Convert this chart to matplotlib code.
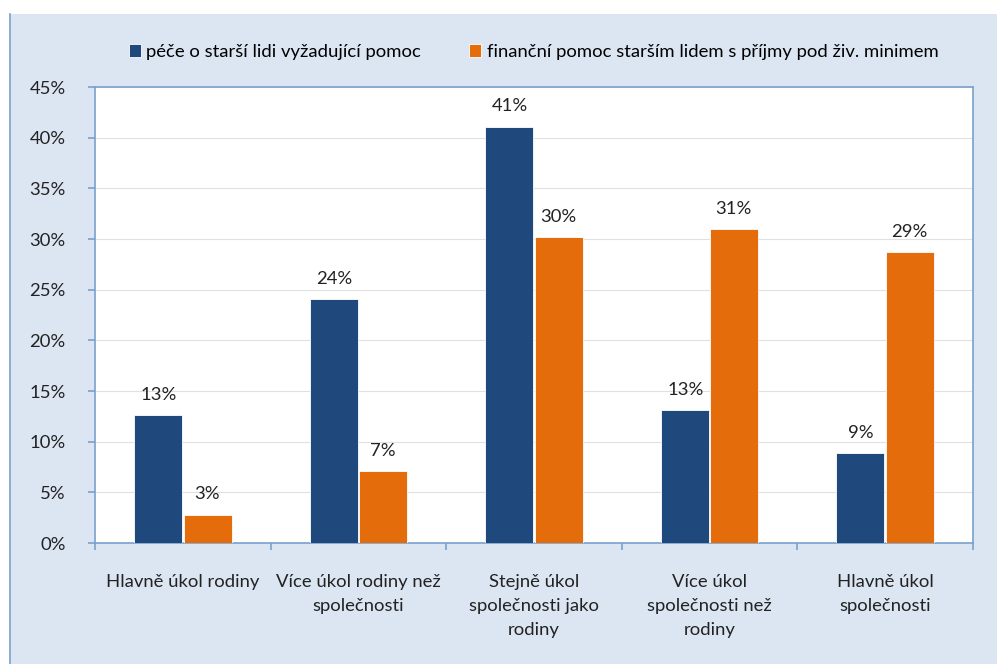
import numpy as np
import matplotlib.pyplot as plt
from matplotlib.patches import Rectangle
from matplotlib.lines import Line2D

plt.rcParams['font.family'] = ['Lato', 'DejaVu Sans']

categories = ['Hlavně úkol rodiny', 'Více úkol rodiny než\nspolečnosti',
              'Stejně úkol\nspolečnosti jako\nrodiny', 'Více úkol\nspolečnosti než\nrodiny',
              'Hlavně úkol\nspolečnosti']
pece = [12.6, 24.1, 41.1, 13.1, 8.9]
financni = [2.8, 7.1, 30.2, 31.0, 28.7]
series_names = ['péče o starší lidi vyžadující pomoc',
                'finanční pomoc starším lidem s příjmy pod živ. minimem']

blue = '#1f497d'
orange = '#e46c0a'
panel = '#dce6f2'
edge = '#7aa0cc'
fs = 13.3

fig = plt.figure(figsize=(9.97, 6.64), dpi=100)
fig.patch.set_facecolor('white')
# panel background with left border
fig.patches.append(Rectangle((10/997, 0), 1, 1 - 14/664, transform=fig.transFigure,
                             facecolor=panel, edgecolor='none', zorder=-2))
fig.lines.append(Line2D([10/997, 10/997], [0, 1 - 14/664], transform=fig.transFigure,
                        color=edge, lw=1.2, zorder=-1))

ax = fig.add_axes([95/997, 1 - 543/664, (973-95)/997, (543-87)/664])
ax.set_zorder(2)
ax.set_facecolor('white')

x = np.arange(len(categories))
w = 0.273
ax.bar(x - w/2 - 0.005, pece, w, color=blue, edgecolor='white', linewidth=0.6,
       label=series_names[0], zorder=3)
ax.bar(x + w/2 + 0.005, financni, w, color=orange, edgecolor='white', linewidth=0.6,
       label=series_names[1], zorder=3)

for i in range(len(categories)):
    ax.text(x[i] - w/2, pece[i] + 1.2, f'{round(pece[i])}%', ha='center', va='bottom',
            fontsize=fs, color='#222222')
    ax.text(x[i] + w/2, financni[i] + 1.2, f'{round(financni[i])}%', ha='center', va='bottom',
            fontsize=fs, color='#222222')

ax.set_xlim(-0.5, len(categories) - 0.5)
ax.set_ylim(0, 45)
ax.set_yticks(np.arange(0, 46, 5))
ax.set_yticklabels([f'{v}%' for v in range(0, 46, 5)], fontsize=fs, color='#222222')
ax.yaxis.grid(True, color='#e0e0e0', lw=0.8, zorder=0)
ax.set_axisbelow(True)
ax.set_xticks(x)
ax.set_xticklabels(categories, fontsize=fs, color='#222222', linespacing=1.65)
ax.set_xticks(np.arange(-0.5, len(categories), 1), minor=True)
ax.tick_params(axis='x', which='major', length=0, pad=22)
ax.tick_params(axis='x', which='minor', length=5, color=edge, width=1.2)
ax.tick_params(axis='y', length=5, color=edge, width=1.2, pad=16)
for s in ax.spines.values():
    s.set_color(edge)
    s.set_linewidth(1.2)

fig.legend(loc='center', bbox_to_anchor=(0.535, 1 - 52/664), ncol=2, frameon=False,
           fontsize=fs, handlelength=0.65, handleheight=0.65, handletextpad=0.3,
           columnspacing=2.6)

fig.savefig('out.png', dpi=100)
